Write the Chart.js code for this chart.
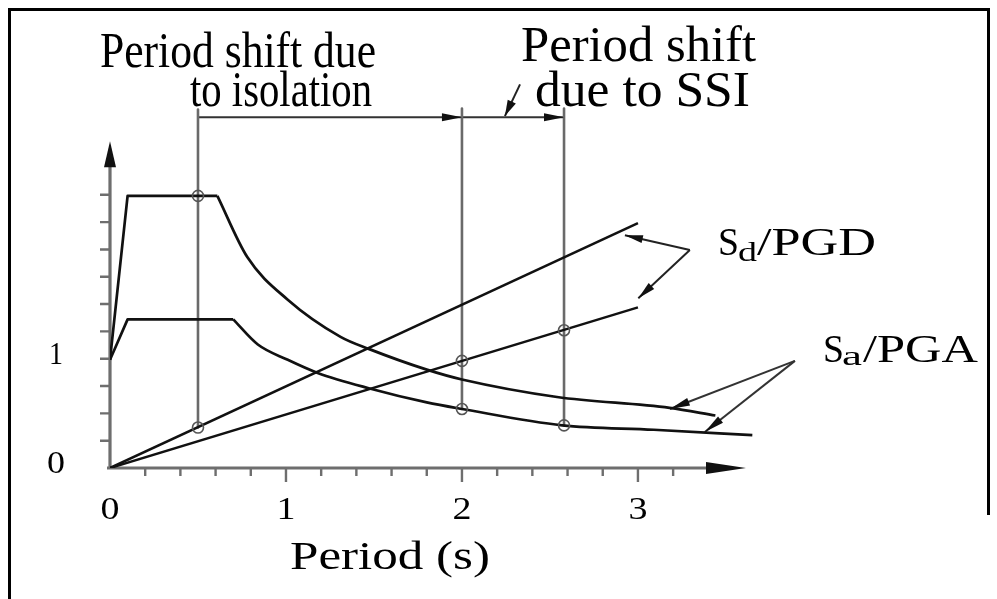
<!DOCTYPE html>
<html>
<head>
<meta charset="utf-8">
<script src="https://cdn.jsdelivr.net/npm/chart.js@4.4.1/dist/chart.umd.min.js"></script>
<style>
  html, body { margin: 0; padding: 0; background: #fff; }
  #chart { display: block; }
</style>
</head>
<body>
<canvas id="chart" width="997" height="599"></canvas>
<script>
// spectral curves: period (s) against normalised ordinate
const saFixedPeriod  = [0, 0.10, 0.61, 0.78, 1.01, 1.31, 1.47, 1.80, 2.00, 2.54, 3.18, 3.44];
const saFixedValue   = [0.99, 2.49, 2.49, 1.93, 1.54, 1.20, 1.09, 0.90, 0.81, 0.65, 0.55, 0.48];
const saDampedPeriod = [0, 0.10, 0.70, 0.84, 1.01, 1.18, 1.47, 1.80, 2.00, 2.57, 3.09, 3.65];
const saDampedValue  = [0.99, 1.36, 1.36, 1.13, 0.99, 0.87, 0.73, 0.60, 0.54, 0.39, 0.35, 0.30];
const sdPeriod       = [0, 3.0];
const sdFixedValue   = [0, 2.24];
const sdDampedValue  = [0, 1.47];

// circled points where the shifted periods cut the curves
const markerPeriod = [0.5, 0.5, 2.0, 2.0, 2.58, 2.58];
const markerValue  = [2.49, 0.37, 0.98, 0.54, 1.26, 0.39];

// fixed base, isolated, isolated + SSI
const shiftPeriods = [0.5, 2.0, 2.58];
const guideTop     = [3.28, 3.29, 3.29];
const guideBottom  = [0.37, 0.54, 0.39];
const shiftLevel   = 3.21;

// leader arrows to the curve labels
const ssiPointerPeriod = [2.33, 2.244];
const ssiPointerValue  = [3.51, 3.22];
const sdLeaderPeriod   = [3.295, 2.926, 3.002];
const sdLeaderValue    = [1.995, 2.13, 1.553];
const saLeaderPeriod   = [3.892, 3.182, 3.38];
const saLeaderValue    = [0.98, 0.54, 0.33];

// axes
const xAxisEnd = 3.614;
const yAxisEnd = 2.99;
const xMajorTicks = [1, 2, 3];
const xMinorTicks = [0.2, 0.4, 0.6, 0.8, 1.2, 1.4, 1.6, 1.8, 2.2, 2.4, 2.6, 2.8, 3.2];
const yTicks = [0.25, 0.5, 0.75, 1.0, 1.25, 1.5, 1.75, 2.0, 2.25, 2.5];
const xTickLabels = ["0", "1", "2", "3"];
const yTickLabels = ["0", "1"];

const serif = '"Liberation Serif", "Times New Roman", serif';
const ink = "#111";
const guideGray = "#6a6a6a";
const axisGray = "#6e6e6e";

function pairs(xs, ys) {
  return xs.map((x, i) => ({ x: x, y: ys[i] }));
}

function lineSet(xs, ys, color, width, extra) {
  return Object.assign({
    data: pairs(xs, ys),
    showLine: true,
    borderColor: color,
    backgroundColor: color,
    borderWidth: width,
    pointRadius: 0,
    pointHoverRadius: 0,
    tension: 0,
    fill: false,
    borderCapStyle: "butt",
    borderJoinStyle: "round"
  }, extra || {});
}

function drawArrow(ctx, fromX, fromY, tipX, tipY, length, half, color) {
  const angle = Math.atan2(tipY - fromY, tipX - fromX);
  ctx.save();
  ctx.translate(tipX, tipY);
  ctx.rotate(angle);
  ctx.beginPath();
  ctx.moveTo(0, 0);
  ctx.lineTo(-length, -half);
  ctx.lineTo(-length, half);
  ctx.closePath();
  ctx.fillStyle = color;
  ctx.fill();
  ctx.restore();
}

// text squeezed or stretched to a given width
function fitText(ctx, str, x, y, size, width, align) {
  ctx.font = size + "px " + serif;
  const natural = ctx.measureText(str).width;
  const sx = width ? width / natural : 1;
  ctx.save();
  ctx.translate(x, y);
  ctx.scale(sx, 1);
  ctx.textAlign = align || "left";
  ctx.textBaseline = "alphabetic";
  ctx.fillStyle = "#000";
  ctx.fillText(str, 0, 0);
  ctx.restore();
}

const datasets = [];

datasets.push({
  data: pairs(markerPeriod, markerValue),
  showLine: false,
  pointStyle: "circle",
  pointRadius: 5.5,
  pointBorderWidth: 1.6,
  pointBorderColor: "#555",
  pointBackgroundColor: "rgba(0,0,0,0)"
});

// rising branch and plateau are straight, the decaying branch is smooth
datasets.push(lineSet(saFixedPeriod.slice(0, 3), saFixedValue.slice(0, 3), ink, 2.7));
datasets.push(lineSet(saFixedPeriod.slice(2), saFixedValue.slice(2), ink, 2.7, { cubicInterpolationMode: "monotone" }));
datasets.push(lineSet(saDampedPeriod.slice(0, 3), saDampedValue.slice(0, 3), ink, 2.7));
datasets.push(lineSet(saDampedPeriod.slice(2), saDampedValue.slice(2), ink, 2.7, { cubicInterpolationMode: "monotone" }));
datasets.push(lineSet(sdPeriod, sdFixedValue, ink, 2.5));
datasets.push(lineSet(sdPeriod, sdDampedValue, ink, 2.5));

shiftPeriods.forEach((t, i) => {
  datasets.push(lineSet([t, t], [guideTop[i], guideBottom[i]], guideGray, 2.6));
});

datasets.push(lineSet([shiftPeriods[0], shiftPeriods[1]], [shiftLevel, shiftLevel], "#333", 2,
  { arrowHead: { length: 20, half: 4 } }));
datasets.push(lineSet([shiftPeriods[1], shiftPeriods[2]], [shiftLevel, shiftLevel], "#333", 2,
  { arrowHead: { length: 20, half: 4 } }));
datasets.push(lineSet(ssiPointerPeriod, ssiPointerValue, "#222", 2,
  { arrowHead: { length: 16, half: 4.5 } }));

[1, 2].forEach((k) => {
  datasets.push(lineSet([sdLeaderPeriod[0], sdLeaderPeriod[k]], [sdLeaderValue[0], sdLeaderValue[k]], "#222", 2,
    { arrowHead: { length: 18, half: 4 } }));
  datasets.push(lineSet([saLeaderPeriod[0], saLeaderPeriod[k]], [saLeaderValue[0], saLeaderValue[k]], "#333", 2,
    { arrowHead: { length: 20, half: 4 } }));
});

const framePlugin = {
  id: "frame",
  beforeDraw(chart) {
    const ctx = chart.ctx;
    ctx.save();
    ctx.fillStyle = "#fff";
    ctx.fillRect(0, 0, chart.width, chart.height);
    ctx.strokeStyle = "#000";
    ctx.lineWidth = 3;
    ctx.beginPath();
    ctx.moveTo(9.5, chart.height);
    ctx.lineTo(9.5, 9.5);
    ctx.lineTo(988.5, 9.5);
    ctx.lineTo(988.5, 515);
    ctx.stroke();
    ctx.restore();
  }
};

const axesPlugin = {
  id: "arrowAxes",
  beforeDatasetsDraw(chart) {
    const ctx = chart.ctx;
    const xs = chart.scales.x, ys = chart.scales.y;
    const x0 = xs.getPixelForValue(0), y0 = ys.getPixelForValue(0);
    const xEnd = xs.getPixelForValue(xAxisEnd), yEnd = ys.getPixelForValue(yAxisEnd);
    ctx.save();
    ctx.strokeStyle = axisGray;
    ctx.lineWidth = 3.2;
    ctx.beginPath();
    ctx.moveTo(x0 - 3, y0);
    ctx.lineTo(xEnd - 30, y0);
    ctx.moveTo(x0, y0 + 1.5);
    ctx.lineTo(x0, yEnd + 20);
    ctx.stroke();
    drawArrow(ctx, x0, y0, xEnd, y0, 40, 6, "#111");
    drawArrow(ctx, x0, y0, x0, yEnd, 26, 6, "#111");

    ctx.lineWidth = 2.4;
    ctx.beginPath();
    xMinorTicks.forEach((v) => {
      const px = xs.getPixelForValue(v);
      ctx.moveTo(px, y0);
      ctx.lineTo(px, y0 + 8);
    });
    xMajorTicks.forEach((v) => {
      const px = xs.getPixelForValue(v);
      ctx.moveTo(px, y0);
      ctx.lineTo(px, y0 + 14);
    });
    yTicks.forEach((v) => {
      const py = ys.getPixelForValue(v);
      ctx.moveTo(x0, py);
      ctx.lineTo(x0 - 10, py);
    });
    ctx.stroke();
    ctx.restore();
  }
};

const arrowPlugin = {
  id: "arrowHeads",
  afterDatasetsDraw(chart) {
    const ctx = chart.ctx;
    chart.data.datasets.forEach((ds, i) => {
      if (!ds.arrowHead) return;
      const pts = chart.getDatasetMeta(i).data;
      const tip = pts[pts.length - 1];
      const from = pts[pts.length - 2];
      drawArrow(ctx, from.x, from.y, tip.x, tip.y, ds.arrowHead.length, ds.arrowHead.half, "#111");
    });
  }
};

const labelPlugin = {
  id: "labels",
  afterDraw(chart) {
    const ctx = chart.ctx;
    const xs = chart.scales.x, ys = chart.scales.y;

    xTickLabels.forEach((s) => {
      fitText(ctx, s, xs.getPixelForValue(Number(s)), 519, 32, 19, "center");
    });
    yTickLabels.forEach((s) => {
      fitText(ctx, s, 56, ys.getPixelForValue(Number(s)) + 5, 31, s === "1" ? 14 : 18, "center");
    });

    fitText(ctx, "Period (s)", 290, 569, 40, 200);

    fitText(ctx, "Period shift due", 100, 67, 50, 276);
    fitText(ctx, "to isolation", 190, 106, 50, 182);
    fitText(ctx, "Period shift", 521, 61, 50, 235);
    fitText(ctx, "due to SSI", 535, 106, 50, 215);

    fitText(ctx, "S", 718, 255, 39, 21);
    fitText(ctx, "d", 738, 261, 27, 19);
    fitText(ctx, "/PGD", 757, 255, 39, 119);

    fitText(ctx, "S", 823, 362, 39, 21);
    fitText(ctx, "a", 842, 365, 27, 20);
    fitText(ctx, "/PGA", 863, 362, 39, 115);
  }
};

new Chart(document.getElementById("chart"), {
  type: "scatter",
  data: { datasets: datasets },
  options: {
    responsive: false,
    animation: false,
    events: [],
    layout: { padding: { left: 110, right: 7, top: 9, bottom: 131 } },
    plugins: {
      legend: { display: false },
      tooltip: { enabled: false }
    },
    scales: {
      x: { type: "linear", display: false, min: 0, max: 5 },
      y: { type: "linear", display: false, min: 0, max: 4.2 }
    }
  },
  plugins: [framePlugin, axesPlugin, arrowPlugin, labelPlugin]
});
</script>
</body>
</html>
